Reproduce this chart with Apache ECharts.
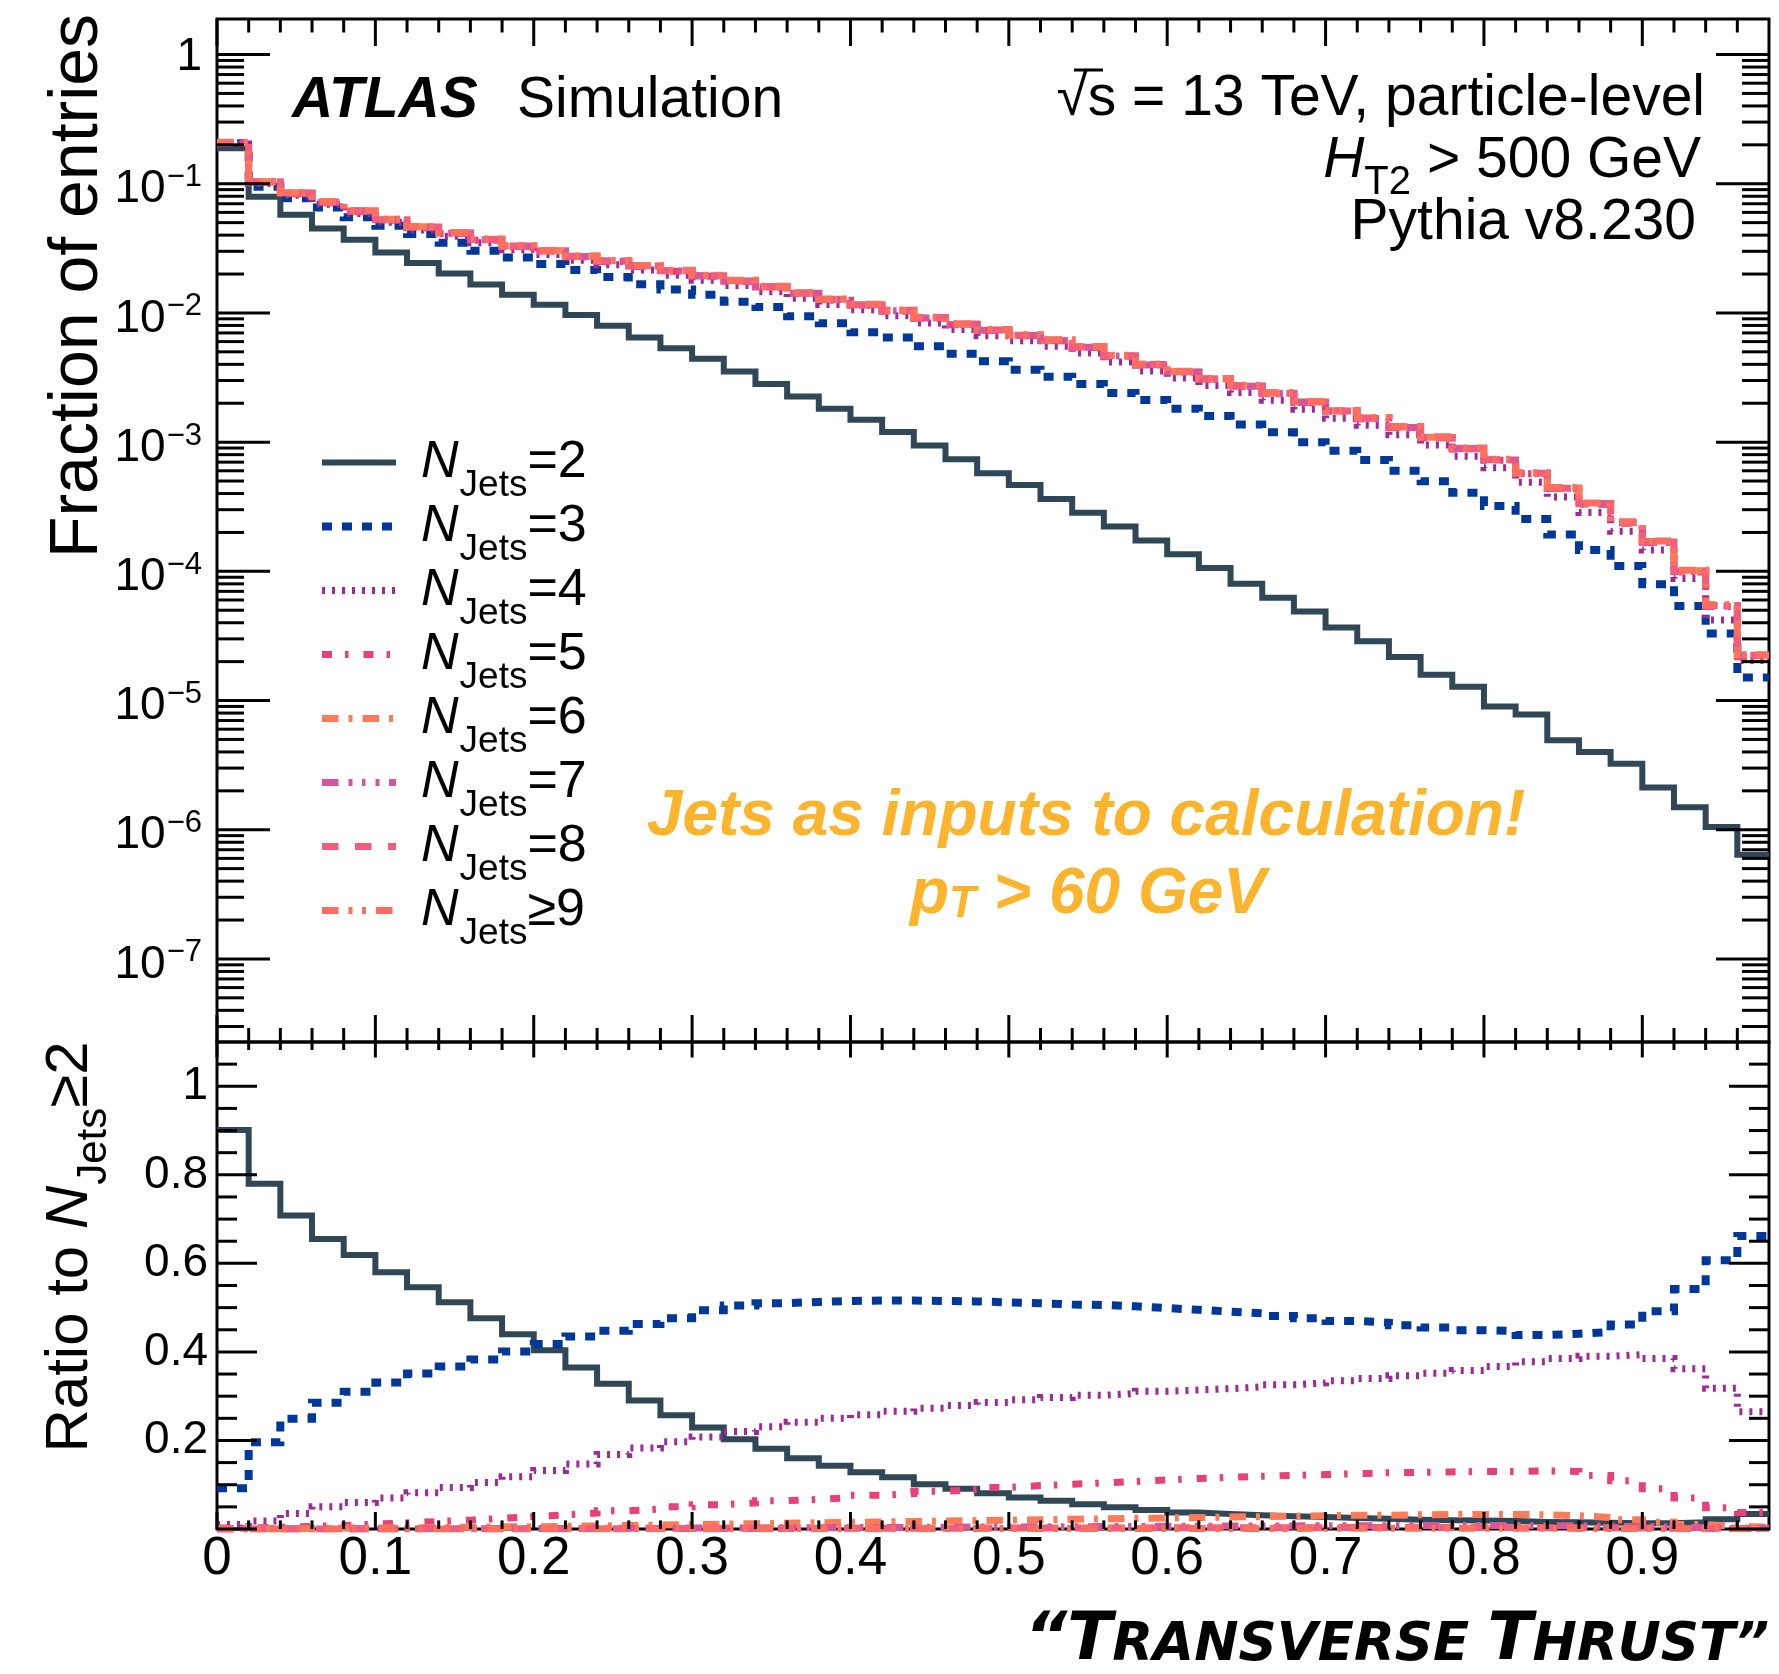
<!DOCTYPE html>
<html><head><meta charset="utf-8">
<script src="https://cdn.jsdelivr.net/npm/echarts@6/dist/echarts.min.js"></script>
<style>html,body{margin:0;padding:0;background:#fff}#c{width:1779px;height:1674px}</style>
</head><body><div id="c"></div>
<script>
// ---------------- data ----------------
const binEdges = [0,0.02,0.04,0.06,0.08,0.10,0.12,0.14,0.16,0.18,0.20,0.22,0.24,0.26,0.28,0.30,0.32,0.34,0.36,0.38,0.40,0.42,0.44,0.46,0.48,0.50,0.52,0.54,0.56,0.58,0.60,0.62,0.64,0.66,0.68,0.70,0.72,0.74,0.76,0.78,0.80,0.82,0.84,0.86,0.88,0.90,0.92,0.94,0.96,0.98];
const seriesNames = ['NJets=2','NJets=3','NJets=4','NJets=5','NJets=6','NJets=7','NJets=8','NJets\u22659'];

// upper panel: fraction of entries
const frac2 = [0.188,0.0794,0.0575,0.0451,0.0369,0.0293,0.0243,0.0202,0.0166,0.0138,0.01156,0.00962,0.00794,0.00646,0.00533,0.00441,0.00352,0.00282,0.00226,0.00181,0.00149,0.00120,0.000942,0.000736,0.000574,0.000466,0.000363,0.000284,0.000222,0.000173,0.0001355,0.000106,0.0000800,0.0000625,0.0000489,0.0000368,0.0000288,0.0000217,0.0000158,0.0000128,0.0000090,0.0000078,0.00000493,0.0000040,0.00000324,0.00000212,0.00000149,0.00000105,0.00000064];
const frac3 = [0.2056,0.0948,0.0771,0.0656,0.0550,0.0473,0.0408,0.0349,0.0303,0.0269,0.0239,0.0215,0.0190,0.0167,0.0152,0.0138,0.0122,0.0111,0.00944,0.00832,0.00710,0.00646,0.00551,0.00484,0.00422,0.00364,0.00321,0.00282,0.00240,0.00212,0.00181,0.00159,0.00137,0.00119,0.00100,0.000857,0.000726,0.000601,0.000497,0.000405,0.000321,0.000254,0.000193,0.000146,0.000110,0.0000794,0.0000540,0.0000330,0.0000151];
const frac4 = [0.203,0.1003,0.0813,0.0693,0.0587,0.0504,0.0439,0.0393,0.0350,0.0309,0.0283,0.0256,0.0236,0.0215,0.0196,0.0179,0.0163,0.0146,0.0130,0.01162,0.01057,0.00953,0.00835,0.00744,0.00667,0.00608,0.00552,0.00490,0.00417,0.00356,0.00313,0.00274,0.00242,0.00211,0.00180,0.00153,0.00135,0.00114,0.000948,0.000776,0.000632,0.000490,0.000376,0.000285,0.000204,0.000146,0.0000879,0.0000420,0.0000204];
const frac5 = [0.206,0.1025,0.0838,0.0714,0.0608,0.0521,0.0457,0.0411,0.0366,0.0325,0.0298,0.0271,0.0250,0.0229,0.0210,0.0192,0.0175,0.0158,0.0141,0.01256,0.01145,0.01032,0.00910,0.00811,0.00731,0.00667,0.00609,0.00540,0.00463,0.00395,0.00347,0.00306,0.00270,0.00237,0.00202,0.00173,0.00152,0.00129,0.00108,0.000885,0.000725,0.000570,0.000436,0.000330,0.000236,0.000167,0.0000990,0.0000535,0.0000218];
const frac6 = [0.2075,0.1038,0.0851,0.0726,0.0618,0.0530,0.0465,0.0418,0.0372,0.0330,0.0303,0.0275,0.0254,0.0232,0.0213,0.0195,0.0178,0.0160,0.0143,0.01274,0.01161,0.01047,0.00923,0.00822,0.00741,0.00676,0.00617,0.00547,0.00469,0.00400,0.00352,0.00310,0.00274,0.00240,0.00205,0.00175,0.00154,0.00131,0.00109,0.000897,0.000735,0.000577,0.000442,0.000335,0.000240,0.000170,0.000101,0.0000548,0.0000225];
const frac7 = [0.207,0.1030,0.0845,0.0720,0.0612,0.0526,0.0461,0.0414,0.0369,0.0327,0.0300,0.0273,0.0252,0.0230,0.0211,0.0193,0.0176,0.0159,0.0142,0.01262,0.01150,0.01038,0.00915,0.00815,0.00735,0.00670,0.00611,0.00542,0.00465,0.00396,0.00349,0.00307,0.00271,0.00238,0.00203,0.00173,0.00152,0.00130,0.00108,0.000888,0.000728,0.000571,0.000438,0.000332,0.000238,0.000168,0.0000998,0.0000540,0.0000222];
const frac8 = [0.208,0.1035,0.0848,0.0723,0.0615,0.0527,0.0463,0.0416,0.0370,0.0329,0.0301,0.0274,0.0253,0.0231,0.0212,0.0194,0.0177,0.0159,0.0142,0.01268,0.01155,0.01042,0.00919,0.00818,0.00738,0.00672,0.00614,0.00545,0.00467,0.00398,0.00350,0.00308,0.00272,0.00239,0.00204,0.00174,0.00153,0.00130,0.00108,0.000892,0.000731,0.000574,0.000440,0.000333,0.000239,0.000169,0.000100,0.0000544,0.0000224];
const frac9 = [0.209,0.1040,0.0852,0.0727,0.0619,0.0531,0.0466,0.0419,0.0373,0.0331,0.0304,0.0276,0.0255,0.0233,0.0214,0.0196,0.0179,0.0161,0.0144,0.01280,0.01165,0.01050,0.00926,0.00825,0.00744,0.00678,0.00619,0.00549,0.00471,0.00401,0.00353,0.00311,0.00275,0.00241,0.00206,0.00176,0.00155,0.00132,0.00110,0.000900,0.000738,0.000580,0.000445,0.000338,0.000242,0.000172,0.000102,0.0000552,0.0000226];

// lower panel: ratio to NJets>=2
const ratio2 = [0.901,0.780,0.708,0.655,0.619,0.580,0.546,0.512,0.476,0.440,0.404,0.365,0.328,0.290,0.257,0.229,0.203,0.181,0.160,0.143,0.128,0.117,0.101,0.091,0.081,0.071,0.064,0.056,0.049,0.043,0.037,0.034,0.031,0.029,0.027,0.025,0.023,0.021,0.020,0.019,0.018,0.016,0.015,0.014,0.013,0.013,0.015,0.022,0.034];
const ratio3 = [0.092,0.196,0.249,0.285,0.310,0.331,0.351,0.367,0.383,0.401,0.418,0.435,0.448,0.463,0.476,0.494,0.505,0.510,0.513,0.515,0.516,0.516,0.515,0.514,0.512,0.510,0.507,0.506,0.503,0.499,0.495,0.491,0.487,0.481,0.476,0.470,0.466,0.460,0.455,0.449,0.447,0.438,0.441,0.445,0.462,0.492,0.542,0.607,0.662];
const ratio4 = [0.010,0.018,0.035,0.050,0.060,0.070,0.082,0.094,0.105,0.118,0.132,0.147,0.168,0.183,0.197,0.208,0.220,0.231,0.241,0.250,0.258,0.266,0.273,0.279,0.286,0.292,0.297,0.302,0.306,0.311,0.314,0.317,0.321,0.326,0.330,0.335,0.340,0.346,0.352,0.358,0.367,0.378,0.385,0.390,0.394,0.385,0.362,0.318,0.265];
const ratio5 = [0.002,0.004,0.006,0.008,0.011,0.014,0.017,0.020,0.024,0.028,0.032,0.036,0.041,0.045,0.050,0.055,0.059,0.064,0.067,0.071,0.076,0.080,0.085,0.089,0.094,0.098,0.101,0.104,0.107,0.111,0.114,0.117,0.119,0.121,0.123,0.125,0.127,0.128,0.129,0.130,0.130,0.131,0.130,0.121,0.109,0.091,0.070,0.048,0.037];
const ratio6 = [0.0005,0.001,0.001,0.002,0.002,0.003,0.003,0.004,0.005,0.005,0.006,0.007,0.008,0.009,0.010,0.011,0.012,0.013,0.014,0.015,0.016,0.017,0.018,0.019,0.020,0.021,0.022,0.023,0.024,0.025,0.026,0.027,0.028,0.029,0.030,0.031,0.031,0.032,0.033,0.033,0.033,0.032,0.030,0.026,0.021,0.015,0.010,0.006,0.004];
const ratio7 = [0.0003,0.0004,0.0005,0.0006,0.0007,0.0008,0.0009,0.0010,0.0011,0.0012,0.0013,0.0015,0.0017,0.0019,0.0021,0.0023,0.0025,0.0027,0.0029,0.0031,0.0034,0.0037,0.0040,0.0043,0.0046,0.0049,0.0051,0.0054,0.0057,0.0060,0.0063,0.0066,0.0068,0.0070,0.0072,0.0074,0.0076,0.0077,0.0078,0.0078,0.0077,0.0075,0.0070,0.0062,0.0052,0.0042,0.0030,0.0020,0.0015];
const ratio8 = [0.0001,0.0001,0.0002,0.0002,0.0003,0.0003,0.0004,0.0004,0.0005,0.0005,0.0006,0.0007,0.0008,0.0009,0.0010,0.0011,0.0012,0.0013,0.0014,0.0015,0.0016,0.0017,0.0018,0.0020,0.0021,0.0022,0.0023,0.0024,0.0025,0.0026,0.0027,0.0028,0.0029,0.0030,0.0031,0.0032,0.0032,0.0033,0.0033,0.0033,0.0032,0.0031,0.0029,0.0026,0.0022,0.0018,0.0013,0.0009,0.0006];
const ratio9 = [0.0001,0.0001,0.0001,0.0001,0.0001,0.0002,0.0002,0.0002,0.0002,0.0003,0.0003,0.0003,0.0004,0.0004,0.0005,0.0005,0.0006,0.0006,0.0007,0.0007,0.0008,0.0008,0.0009,0.0009,0.0010,0.0010,0.0011,0.0011,0.0012,0.0012,0.0013,0.0013,0.0014,0.0014,0.0015,0.0015,0.0016,0.0016,0.0016,0.0016,0.0016,0.0015,0.0014,0.0012,0.0010,0.0008,0.0006,0.0004,0.0003];

const xTickLabels = ['0','0.1','0.2','0.3','0.4','0.5','0.6','0.7','0.8','0.9'];
const logDecades = [0,-1,-2,-3,-4,-5,-6,-7];

const fracs = [frac2,frac3,frac4,frac5,frac6,frac7,frac8,frac9];
const ratios = [ratio2,ratio3,ratio4,ratio5,ratio6,ratio7,ratio8,ratio9];

// ---------------- styles ----------------
const FONT = '"Liberation Sans", Arial, Helvetica, sans-serif';
const colors = ['#2f4757','#00389a','#9c2a99','#e8417a','#ff7b57','#d5569b','#f25d7b','#ff6e5e'];
const widths = [6,8,7,7,7,7,7,7];
const dashes = ['solid',[10,10],[3,7],[10,13,3.5,15],[16.5,10,4,10],[16.5,10,4,9.5,3.5,10,4,9.5],[16.5,16.5],[16.5,10,4,9.5,4,10]];

const G1 = {left:217, top:19, width:1552, height:1023};
const G2 = {left:217, top:1042, width:1552, height:487};
const Y1MIN = -7.643, Y1MAX = 0.275;

function stepData(vals, tf) {
  const d = vals.map((v, i) => [binEdges[i], tf(v)]);
  d.push([binEdges[vals.length], tf(vals[vals.length - 1])]);
  return d;
}

// tick positions (axis decoration)
const xMajor = [0,0.1,0.2,0.3,0.4,0.5,0.6,0.7,0.8,0.9];
const xMinor = [];
for (let i = 1; i < 49; i++) { if (i % 5 !== 0) xMinor.push(+(i * 0.02).toFixed(2)); }
const y1Major = logDecades.slice();
const y1Minor = [];
for (let n = -8; n <= 0; n++) for (let k = 2; k <= 9; k++) { const v = n + Math.log10(k); if (v > Y1MIN && v < Y1MAX) y1Minor.push(v); }
const y2Major = [0,0.2,0.4,0.6,0.8,1.0];
const y2Minor = [];
for (let i = 1; i < 22; i++) { if (i % 4 !== 0) y2Minor.push(+(i * 0.05).toFixed(2)); }

function makeTickRenderer(cfg) {
  return function (params, api) {
    const cs = params.coordSys;
    const L = cs.x, R = cs.x + cs.width, T = cs.y, B = cs.y + cs.height;
    const st = {stroke:'#000', lineWidth:3};
    const ch = [];
    const ln = (x1,y1,x2,y2) => ch.push({type:'line', shape:{x1,y1,x2,y2}, style:st});
    xMajor.forEach(v => { const px = api.coord([v, cfg.yRef])[0];
      ln(px, T, px, T + cfg.top[0]); ln(px, B, px, B - cfg.bot[0]); });
    xMinor.forEach(v => { const px = api.coord([v, cfg.yRef])[0];
      ln(px, T, px, T + cfg.top[1]); ln(px, B, px, B - cfg.bot[1]); });
    cfg.yMajor.forEach(v => { const py = api.coord([0.5, v])[1];
      ln(L, py, L + cfg.side[0], py); ln(R, py, R - cfg.side[0], py); });
    cfg.yMinor.forEach(v => { const py = api.coord([0.5, v])[1];
      ln(L, py, L + cfg.side[1], py); ln(R, py, R - cfg.side[1], py); });
    if (cfg.logLabels) {
      logDecades.forEach(n => {
        const py = api.coord([0.5, n])[1];
        if (n === 0) {
          ch.push({type:'text', x: L - 15, y: py + 3, style:{text:'1', fontFamily:FONT, fontSize:46, fill:'#000', align:'right', verticalAlign:'middle'}});
        } else {
          ch.push({type:'text', x: L - 15, y: py + 6, style:{
            text:'{b|10}{s|\u2212' + (-n) + '}', align:'right', verticalAlign:'middle',
            rich:{ b:{fontFamily:FONT, fontSize:46, fill:'#000', lineHeight:46},
                   s:{fontFamily:FONT, fontSize:31, fill:'#000', lineHeight:20, padding:[0,0,24,1]} } }});
        }
      });
    }
    return {type:'group', children: ch};
  };
}

const series = [];
seriesNames.forEach((name, i) => {
  const ls = {color: colors[i], width: widths[i], type: dashes[i], cap:'butt', join:'miter'};
  series.push({type:'line', name, xAxisIndex:0, yAxisIndex:0, data: stepData(fracs[i], Math.log10),
    step:'end', symbol:'none', showSymbol:false, color: colors[i], lineStyle: ls, silent:true,
    emphasis:{disabled:true}, animation:false, z: 2 + i * 0.01});
  series.push({type:'line', name, xAxisIndex:1, yAxisIndex:1, data: stepData(ratios[i], v => v),
    step:'end', symbol:'none', showSymbol:false, color: colors[i], lineStyle: ls, silent:true,
    emphasis:{disabled:true}, animation:false, z: 2 + i * 0.01});
});
series.push({type:'custom', xAxisIndex:0, yAxisIndex:0, data:[[0.5,-3]], clip:false, silent:true, z:10, animation:false,
  renderItem: makeTickRenderer({yRef:-3, top:[27,13.5], bot:[27,14], side:[53,27], yMajor:y1Major, yMinor:y1Minor, logLabels:true})});
series.push({type:'custom', xAxisIndex:1, yAxisIndex:1, data:[[0.5,0.5]], clip:false, silent:true, z:10, animation:false,
  renderItem: makeTickRenderer({yRef:0.5, top:[15.5,8], bot:[17,8.6], side:[40,20], yMajor:y2Major, yMinor:y2Minor, logLabels:false})});

const legendRich = {
  n:{fontFamily:FONT, fontStyle:'italic', fontSize:52, lineHeight:64, color:'#000', padding:[0,0,0,20]},
  s:{fontFamily:FONT, fontSize:37, lineHeight:16, color:'#000', padding:[46,0,0,1]},
  e:{fontFamily:FONT, fontSize:52, lineHeight:64, color:'#000'}
};

const option = {
  backgroundColor:'#fff',
  animation:false,
  grid:[
    Object.assign({show:true, borderColor:'#000', borderWidth:3, backgroundColor:'transparent'}, G1),
    Object.assign({show:true, borderColor:'#000', borderWidth:3, backgroundColor:'transparent'}, G2)
  ],
  xAxis:[
    {type:'value', gridIndex:0, min:0, max:0.98, axisLine:{show:false}, axisTick:{show:false}, axisLabel:{show:false}, splitLine:{show:false}},
    {type:'value', gridIndex:1, min:0, max:0.98, interval:0.1, axisLine:{show:false}, axisTick:{show:false}, splitLine:{show:false},
      axisLabel:{show:true, margin:4, fontFamily:FONT, fontSize:53, color:'#000',
        formatter: v => { const i = Math.round(v * 10); return (v > 0.95) ? '' : xTickLabels[i]; }}}
  ],
  yAxis:[
    {type:'value', gridIndex:0, min:Y1MIN, max:Y1MAX, axisLine:{show:false}, axisTick:{show:false}, axisLabel:{show:false}, splitLine:{show:false}},
    {type:'value', gridIndex:1, min:0, max:1.1, interval:0.2, axisLine:{show:false}, axisTick:{show:false}, splitLine:{show:false},
      axisLabel:{show:true, margin:9, fontFamily:FONT, fontSize:46, color:'#000',
        formatter: v => (v < 0.01 || v > 1.05) ? '' : (Math.abs(v - 1) < 1e-6 ? '1' : v.toFixed(1))}}
  ],
  legend:{
    show:true, orient:'vertical', left:313, top:416, itemWidth:74, itemHeight:14, itemGap:-19, selectedMode:false,
    data: seriesNames, lineStyle:{width:'inherit'},
    itemStyle:{color:'rgba(0,0,0,0)', borderColor:'rgba(0,0,0,0)', borderWidth:0, opacity:0},
    formatter: name => '{n|N}{s|Jets}{e|' + name.replace('NJets','') + '}',
    textStyle:{rich: legendRich}
  },
  series,
  graphic:[
    {type:'text', x:78, y:286, rotation:Math.PI/2, silent:true,
      style:{text:'Fraction of entries', font:'68px ' + FONT, fill:'#000', align:'center', verticalAlign:'middle'}},
    {type:'text', x:70, y:1247, rotation:Math.PI/2, silent:true,
      style:{text:'{r|Ratio to }{n|N}{s|Jets}{e|\u22652}', align:'center', verticalAlign:'middle',
        rich:{ r:{fontFamily:FONT, fontSize:60, fill:'#000', lineHeight:60},
               n:{fontFamily:FONT, fontStyle:'italic', fontSize:60, fill:'#000', lineHeight:60},
               s:{fontFamily:FONT, fontSize:42, fill:'#000', lineHeight:16, padding:[49,0,0,1]},
               e:{fontFamily:FONT, fontSize:60, fill:'#000', lineHeight:60} }}},
    {type:'text', x:292, y:101, silent:true,
      style:{text:'ATLAS', font:'italic bold 57px ' + FONT, fill:'#000', align:'left', verticalAlign:'middle'}},
    {type:'text', x:517, y:101, silent:true,
      style:{text:'Simulation', font:'57px ' + FONT, fill:'#000', align:'left', verticalAlign:'middle'}},
    {type:'text', x:1705, y:99, silent:true,
      style:{text:'\u221As = 13 TeV, particle-level', font:'57px ' + FONT, fill:'#000', align:'right', verticalAlign:'middle'}},
    {type:'line', silent:true, shape:{x1:1074, y1:70, x2:1103, y2:70}, style:{stroke:'#000', lineWidth:3}},
    {type:'text', x:1701, y:161, silent:true,
      style:{text:'{i|H}{s|T2}{r| > 500 GeV}', align:'right', verticalAlign:'middle',
        rich:{ i:{fontFamily:FONT, fontStyle:'italic', fontSize:57, fill:'#000', lineHeight:57},
               s:{fontFamily:FONT, fontSize:40, fill:'#000', lineHeight:16, padding:[43,0,0,0]},
               r:{fontFamily:FONT, fontSize:57, fill:'#000', lineHeight:57} }}},
    {type:'text', x:1696, y:223, silent:true,
      style:{text:'Pythia v8.230', font:'57px ' + FONT, fill:'#000', align:'right', verticalAlign:'middle'}},
    {type:'text', x:1086, y:817, silent:true,
      style:{text:'Jets as inputs to calculation!', font:'italic bold 64px ' + FONT, fill:'#fcb42c', align:'center', verticalAlign:'middle'}},
    {type:'text', x:1088, y:895, silent:true,
      style:{text:'{p|p}{s|T}{r| > 60 GeV}', align:'center', verticalAlign:'middle',
        rich:{ p:{fontFamily:FONT, fontStyle:'italic', fontWeight:'bold', fontSize:64, fill:'#fcb42c', lineHeight:64},
               s:{fontFamily:FONT, fontStyle:'italic', fontWeight:'bold', fontSize:44, fill:'#fcb42c', lineHeight:20, padding:[20,0,0,0]},
               r:{fontFamily:FONT, fontStyle:'italic', fontWeight:'bold', fontSize:64, fill:'#fcb42c', lineHeight:64} }}},
    {type:'text', x:1397, y:1642, silent:true,
      style:{text:'{b|\u201CT}{m|RANSVERSE }{b|T}{m|HRUST\u201D}', align:'center', verticalAlign:'middle',
        rich:{ b:{fontFamily:'"DejaVu Sans", sans-serif', fontStyle:'italic', fontWeight:'bold', fontSize:66, fill:'#000', lineHeight:66},
               m:{fontFamily:'"DejaVu Sans", sans-serif', fontStyle:'italic', fontWeight:'bold', fontSize:53, fill:'#000', lineHeight:53, padding:[8,0,0,0]} }}}
  ]
};

const chart = echarts.init(document.getElementById('c'), null, {renderer:'canvas', width:1779, height:1674});
chart.setOption(option);
</script>
</body></html>
